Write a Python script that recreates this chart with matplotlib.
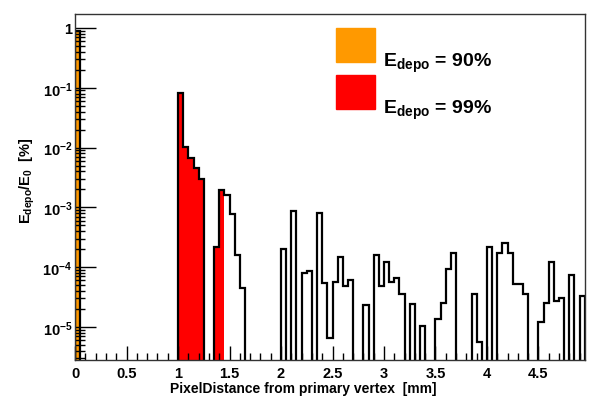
import numpy as np
import matplotlib
matplotlib.use("Agg")
import matplotlib.pyplot as plt
from matplotlib.ticker import FixedLocator, MultipleLocator, LogLocator, NullFormatter

plt.rcParams['font.family'] = ['Liberation Sans', 'DejaVu Sans']
plt.rcParams['font.weight'] = 'bold'
plt.rcParams['mathtext.fontset'] = 'custom'
plt.rcParams['mathtext.rm'] = 'Liberation Sans:bold'
plt.rcParams['mathtext.bf'] = 'Liberation Sans:bold'
plt.rcParams['mathtext.it'] = 'Liberation Sans:bold'

# bin edges of the histogram (0.05 mm bins)
bin_width = 0.05
n_bins = 99

# energy deposit fraction per bin (0 = empty bin)
edep = [
    0.9, 0, 0, 0, 0, 0, 0, 0, 0, 0,
    0, 0, 0, 0, 0, 0, 0, 0, 0, 0,
    0.081, 0.0104, 0.0067, 0.0045, 0.0030, 0, 0, 2.15e-4, 1.96e-3, 1.62e-3,
    7.6e-4, 1.6e-4, 4.5e-5, 0, 0, 0, 0, 0, 0, 0,
    2.0e-4, 0, 8.8e-4, 0, 8.0e-5, 8.5e-5, 0, 7.9e-4, 5.5e-5, 6.6e-6,
    5.6e-5, 1.5e-4, 4.8e-5, 6.0e-5, 0, 0, 2.3e-5, 0, 1.6e-4, 4.8e-5,
    1.24e-4, 5.7e-5, 6.6e-5, 3.5e-5, 0, 2.4e-5, 0, 1.04e-5, 0, 0,
    1.38e-5, 2.5e-5, 9.3e-5, 1.7e-4, 0, 0, 0, 3.6e-5, 5.7e-6, 0,
    2.2e-4, 0, 1.7e-4, 2.5e-4, 1.7e-4, 5.3e-5, 5.3e-5, 3.6e-5, 0, 0,
    1.2e-5, 2.5e-5, 1.24e-4, 2.7e-5, 3.0e-5, 0, 7.4e-5, 0, 3.3e-5,
]

# ranges (mm) that contain 90% and 99% of deposited energy
range90 = [(0.0, 0.05)]
range99 = [(1.0, 1.25), (1.35, 1.45)]

edges = np.arange(n_bins + 1) * bin_width
vals = np.array(edep)
centers = edges[:-1] + bin_width / 2
floor = 1e-9

def in_ranges(ranges):
    m = np.zeros(n_bins, bool)
    for a, b in ranges:
        m |= (centers > a) & (centers < b)
    return m

fig = plt.figure(figsize=(6.01, 4.10), dpi=100)
ax = fig.add_axes([0.125, 0.1195, 0.848, 0.8435])
ax.set_yscale('log')

ax.stairs(np.where(in_ranges(range90) & (vals > 0), vals, floor), edges,
          baseline=floor, fill=True, color='#ff9900')
ax.stairs(np.where(in_ranges(range99) & (vals > 0), vals, floor), edges,
          baseline=floor, fill=True, color='#ff0000')
ax.stairs(np.where(vals > 0, vals, floor), edges, baseline=floor,
          color='black', lw=1.6)

ax.set_xlim(0, 4.95)
ax.set_ylim(2.8e-6, 1.7)

ax.xaxis.set_minor_locator(MultipleLocator(0.1))
ax.set_xticks([0, 0.5, 1, 1.5, 2, 2.5, 3, 3.5, 4, 4.5])
ax.set_xticklabels(['0', '0.5', '1', '1.5', '2', '2.5', '3', '3.5', '4', '4.5'])

yt = [1e-5, 1e-4, 1e-3, 1e-2, 1e-1, 1]
ax.yaxis.set_major_locator(FixedLocator(yt))
ax.set_yticklabels([r'$\mathbf{10^{-5}}$', r'$\mathbf{10^{-4}}$', r'$\mathbf{10^{-3}}$',
                    r'$\mathbf{10^{-2}}$', r'$\mathbf{10^{-1}}$', '1'])
ax.yaxis.set_minor_locator(LogLocator(subs=np.arange(2, 10)))
ax.yaxis.set_minor_formatter(NullFormatter())

ax.tick_params(axis='both', which='both', direction='in', top=False, right=False,
               labelsize=10.5, width=1.0)
ax.tick_params(axis='y', which='major', length=15, pad=2)
ax.tick_params(axis='y', which='minor', length=7)
ax.tick_params(axis='x', which='major', length=10, pad=4)
ax.tick_params(axis='x', which='minor', length=5)
for s in ax.spines.values():
    s.set_linewidth(1.0)
    s.set_color('#333333')

fig.text(0.505, 0.041, 'PixelDistance from primary vertex  [mm]', ha='center',
         fontsize=10, fontweight='bold')
fig.text(0.045, 0.56, r'$\mathbf{E_{depo}/E_{0}}$  [%]', rotation=90, va='center',
         ha='center', fontsize=10.5, fontweight='bold')

# legend boxes
fig.patches.append(plt.Rectangle((336 / 601, 1 - 63 / 410), 39 / 601, 34 / 410,
                                 transform=fig.transFigure, color='#ff9900'))
fig.patches.append(plt.Rectangle((336 / 601, 1 - 110 / 410), 39 / 601, 34 / 410,
                                 transform=fig.transFigure, color='#ff0000'))
fig.text(383 / 601, 1 - 67 / 410, r'$\mathbf{E_{depo}}$ = 90%', fontsize=14,
         fontweight='bold')
fig.text(383 / 601, 1 - 114 / 410, r'$\mathbf{E_{depo}}$ = 99%', fontsize=14,
         fontweight='bold')

fig.savefig('out.png', dpi=100)
